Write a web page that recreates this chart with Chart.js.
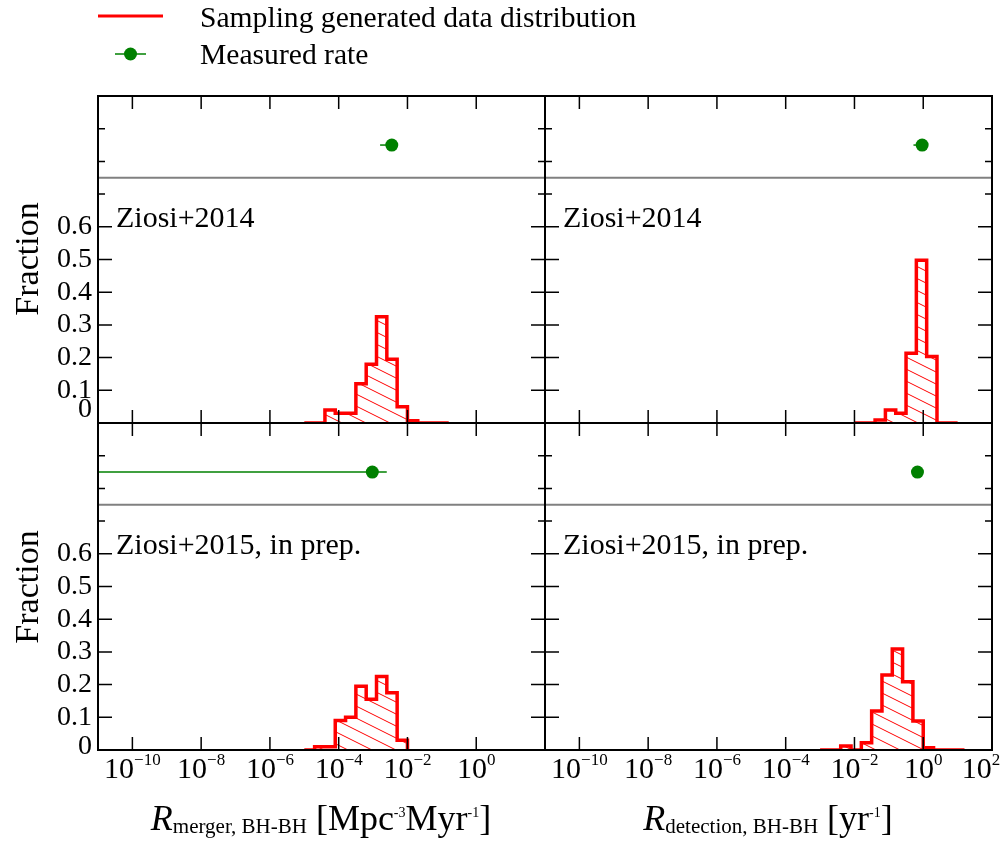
<!DOCTYPE html>
<html>
<head>
<meta charset="utf-8">
<title>BH-BH merger and detection rates</title>
<script src="https://cdn.jsdelivr.net/npm/chart.js@4.4.0/dist/chart.umd.min.js"></script>
<style>
    body { margin: 0; background: #fff; }
    #wrap { position: relative; width: 1007px; height: 843px; }
    #wrap canvas { position: absolute; left: 0; top: 0; }
</style>
</head>
<body>
<div id="wrap">
    <canvas id="tl" width="1007" height="843"></canvas>
    <canvas id="tr" width="1007" height="843"></canvas>
    <canvas id="bl" width="1007" height="843"></canvas>
    <canvas id="br" width="1007" height="843"></canvas>
</div>
<script>
// histogram bins are uniform in log10, so the edges are kept as exponents
const mergerBins2014 = [-5.0, -4.7, -4.4, -4.1, -3.8, -3.5, -3.2, -2.9, -2.6, -2.3, -2.0, -1.7, -1.4, -1.1, -0.8];
const mergerFrac2014 = [0, 0, 0.04, 0.03, 0.03, 0.12, 0.18, 0.325, 0.195, 0.05, 0.007, 0, 0, 0];
const detectBins2014 = [-2.0, -1.7, -1.4, -1.1, -0.8, -0.5, -0.2, 0.1, 0.4, 0.7, 1.0];
const detectFrac2014 = [0, 0, 0.009, 0.04, 0.03, 0.213, 0.498, 0.203, 0, 0];
const mergerBins2015 = [-5.0, -4.7, -4.4, -4.1, -3.8, -3.5, -3.2, -2.9, -2.6, -2.3, -2.0];
const mergerFrac2015 = [0, 0.01, 0.01, 0.09, 0.10, 0.195, 0.155, 0.225, 0.175, 0.03];
const detectBins2015 = [-3.0, -2.7, -2.4, -2.1, -1.8, -1.5, -1.2, -0.9, -0.6, -0.3, 0.0, 0.3, 0.6, 0.9, 1.2];
const detectFrac2015 = [0, 0, 0.012, 0, 0.022, 0.119, 0.229, 0.309, 0.209, 0.089, 0.007, 0, 0, 0];

// measured rates (merger 2014, detection 2014, merger 2015, detection 2015)
const rateValue = [3.5e-3, 0.93, 9.5e-4, 0.68];
const rateLow = [1.6e-3, 0.52, 0, 0.60];
const rateHigh = [5.0e-3, 1.3, 2.5e-3, 0.76];
const rateLevel = 0.85;
const splitLevel = 0.75;

const xTickExp = [-10, -8, -6, -4, -2, 0, 2];
const yTickLabels = [0, 0.1, 0.2, 0.3, 0.4, 0.5, 0.6];

const FONT = '"Liberation Serif", "Times New Roman", serif';

function font(size, italic) {
    return (italic ? 'italic ' : '') + size + 'px ' + FONT;
}

// draws a run of text pieces (for sub/superscripts) starting or centred at x
function richText(ctx, parts, x, y, align) {
    let w = 0;
    parts.forEach(p => { ctx.font = font(p.size, p.italic); w += ctx.measureText(p.t).width; });
    let cx = align === 'center' ? x - w / 2 : (align === 'right' ? x - w : x);
    ctx.textAlign = 'left';
    ctx.textBaseline = 'alphabetic';
    parts.forEach(p => {
        ctx.font = font(p.size, p.italic);
        ctx.fillText(p.t, cx, y + (p.dy || 0));
        cx += ctx.measureText(p.t).width;
    });
}

// outline of a step histogram, starting and ending on the baseline
function stepPoints(binsLog, frac) {
    const pts = [{ x: Math.pow(10, binsLog[0]), y: 0 }];
    frac.forEach((f, i) => pts.push({ x: Math.pow(10, binsLog[i]), y: f }));
    pts.push({ x: Math.pow(10, binsLog[binsLog.length - 1]), y: 0 });
    return pts;
}

function makeHatch() {
    const tile = document.createElement('canvas');
    tile.width = 24;
    tile.height = 12;
    const t = tile.getContext('2d');
    t.strokeStyle = '#ff0000';
    t.lineWidth = 1;
    for (let k = -1; k <= 1; k++) {
        t.beginPath();
        t.moveTo(-24, -12 + k * 12);
        t.lineTo(48, 24 + k * 12);
        t.stroke();
    }
    return t.createPattern(tile, 'repeat');
}

const panelDecor = {
    id: 'panelDecor',
    beforeDatasetsDraw(chart, args, opts) {
        const { ctx, chartArea: a, scales: { x, y } } = chart;
        ctx.save();
        ctx.beginPath();
        ctx.rect(a.left, a.top, a.right - a.left, a.bottom - a.top);
        ctx.clip();
        const ys = y.getPixelForValue(splitLevel);
        ctx.strokeStyle = '#808080';
        ctx.lineWidth = 2;
        ctx.beginPath();
        ctx.moveTo(a.left, ys);
        ctx.lineTo(a.right, ys);
        ctx.stroke();
        // horizontal error bar of the measured rate
        const yr = y.getPixelForValue(rateLevel);
        ctx.strokeStyle = '#008000';
        ctx.lineWidth = 1.5;
        ctx.beginPath();
        ctx.moveTo(x.getPixelForValue(rateLow[opts.index]), yr);
        ctx.lineTo(x.getPixelForValue(rateHigh[opts.index]), yr);
        ctx.stroke();
        ctx.restore();
    },
    afterDraw(chart, args, opts) {
        const { ctx, chartArea: a, scales: { x, y } } = chart;
        ctx.save();
        ctx.strokeStyle = '#000';
        ctx.fillStyle = '#000';

        // inward ticks on all four sides
        ctx.lineWidth = 1.5;
        ctx.beginPath();
        xTickExp.forEach(e => {
            const px = x.getPixelForValue(Math.pow(10, e));
            if (px <= a.left + 1 || px >= a.right - 1) return;
            ctx.moveTo(px, a.top); ctx.lineTo(px, a.top + 13);
            ctx.moveTo(px, a.bottom); ctx.lineTo(px, a.bottom - 13);
        });
        y.ticks.forEach(t => {
            const v = t.value;
            if (v <= 0 || v >= 1) return;
            const major = v < 0.61 && Math.abs(v * 10 - Math.round(v * 10)) < 1e-6;
            const len = major ? 14 : 7;
            const py = y.getPixelForValue(v);
            ctx.moveTo(a.left, py); ctx.lineTo(a.left + len, py);
            ctx.moveTo(a.right, py); ctx.lineTo(a.right - len, py);
        });
        ctx.stroke();

        ctx.lineWidth = 2;
        ctx.strokeRect(a.left, a.top, a.right - a.left, a.bottom - a.top);

        if (opts.yLabels) {
            ctx.font = font(28);
            ctx.textAlign = 'right';
            ctx.textBaseline = 'middle';
            yTickLabels.forEach(v => {
                const py = y.getPixelForValue(v) - (v === 0 ? opts.zeroLift : 0);
                ctx.fillText(v === 0 ? '0' : v.toFixed(1), a.left - 6, py);
            });
        }
        if (opts.xLabels) {
            xTickExp.forEach(e => {
                if (e === 2 && !opts.lastLabel) return;
                let px = x.getPixelForValue(Math.pow(10, e));
                // keep the last label inside the page
                if (e === 2) px -= 11;
                const exp = e < 0 ? '\u2212' + (-e) : String(e);
                richText(ctx, [{ t: '10', size: 30 }, { t: exp, size: 17, dy: -13 }], px, 778, 'center');
            });
        }
        ctx.font = font(30);
        ctx.textAlign = 'left';
        ctx.textBaseline = 'alphabetic';
        ctx.fillText(opts.note, a.left + 18, a.top + 131);
        ctx.restore();
    }
};

// legend, y titles and x titles for the whole figure
const pageDecor = {
    id: 'pageDecor',
    afterDraw(chart) {
        const ctx = chart.ctx;
        ctx.save();
        ctx.strokeStyle = '#ff0000';
        ctx.lineWidth = 3;
        ctx.beginPath();
        ctx.moveTo(98, 16);
        ctx.lineTo(163, 16);
        ctx.stroke();
        ctx.strokeStyle = '#008000';
        ctx.lineWidth = 1.5;
        ctx.beginPath();
        ctx.moveTo(115, 54);
        ctx.lineTo(146, 54);
        ctx.stroke();
        ctx.fillStyle = '#008000';
        ctx.beginPath();
        ctx.arc(130.5, 54, 6.5, 0, Math.PI * 2);
        ctx.fill();

        ctx.fillStyle = '#000';
        ctx.font = font(29.6);
        ctx.textAlign = 'left';
        ctx.textBaseline = 'alphabetic';
        ctx.fillText('Sampling generated data distribution', 200, 27);
        ctx.fillText('Measured rate', 200, 64);

        ctx.font = font(34);
        ctx.textAlign = 'center';
        [259, 587].forEach(cy => {
            ctx.save();
            ctx.translate(38, cy);
            ctx.rotate(-Math.PI / 2);
            ctx.fillText('Fraction', 0, 0);
            ctx.restore();
        });

        richText(ctx, [
            { t: 'R', size: 36, italic: true },
            { t: 'merger, BH-BH', size: 21, dy: 3 },
            { t: ' [Mpc', size: 36 },
            { t: '-3', size: 14, dy: -13 },
            { t: 'Myr', size: 36 },
            { t: '-1', size: 14, dy: -13 },
            { t: ']', size: 36 }
        ], 321, 830, 'center');
        richText(ctx, [
            { t: 'R', size: 36, italic: true },
            { t: 'detection, BH-BH', size: 21, dy: 3 },
            { t: ' [yr', size: 36 },
            { t: '-1', size: 14, dy: -13 },
            { t: ']', size: 36 }
        ], 768, 830, 'center');
        ctx.restore();
    }
};

const hatch = makeHatch();

const panels = [
    { id: 'tl', bins: mergerBins2014, frac: mergerFrac2014, note: 'Ziosi+2014', box: [98, 96, 545, 423], yLabels: true, xLabels: false, zeroLift: 13 },
    { id: 'tr', bins: detectBins2014, frac: detectFrac2014, note: 'Ziosi+2014', box: [545, 96, 992, 423], yLabels: false, xLabels: false },
    { id: 'bl', bins: mergerBins2015, frac: mergerFrac2015, note: 'Ziosi+2015, in prep.', box: [98, 423, 545, 750], yLabels: true, xLabels: true, zeroLift: 3 },
    { id: 'br', bins: detectBins2015, frac: detectFrac2015, note: 'Ziosi+2015, in prep.', box: [545, 423, 992, 750], yLabels: false, xLabels: true, lastLabel: true }
];

panels.forEach((p, i) => {
    const canvas = document.getElementById(p.id);
    new Chart(canvas, {
        type: 'line',
        data: {
            datasets: [{
                data: stepPoints(p.bins, p.frac),
                stepped: true,
                borderColor: '#ff0000',
                borderWidth: 3.5,
                pointRadius: 0,
                fill: 'origin',
                backgroundColor: hatch,
                clip: 0,
                order: 2
            }, {
                type: 'scatter',
                data: [{ x: rateValue[i], y: rateLevel }],
                pointRadius: 6.5,
                pointBackgroundColor: '#008000',
                pointBorderColor: '#008000',
                pointBorderWidth: 0,
                order: 1
            }]
        },
        options: {
            responsive: false,
            animation: false,
            devicePixelRatio: 1,
            layout: {
                padding: { left: p.box[0], top: p.box[1], right: 1007 - p.box[2], bottom: 843 - p.box[3] }
            },
            scales: {
                x: { type: 'logarithmic', min: 1e-11, max: 1e2, display: false },
                y: {
                    type: 'linear', min: 0, max: 1, display: false,
                    afterBuildTicks: scale => {
                        const ticks = [];
                        for (let k = 0; k <= 20; k++) ticks.push({ value: k * 0.05 });
                        scale.ticks = ticks;
                    }
                }
            },
            plugins: {
                legend: { display: false },
                tooltip: { enabled: false },
                panelDecor: { index: i, note: p.note, yLabels: p.yLabels, xLabels: p.xLabels, zeroLift: p.zeroLift || 0, lastLabel: !!p.lastLabel }
            }
        },
        plugins: i === 0 ? [panelDecor, pageDecor] : [panelDecor]
    });
});
</script>
</body>
</html>
